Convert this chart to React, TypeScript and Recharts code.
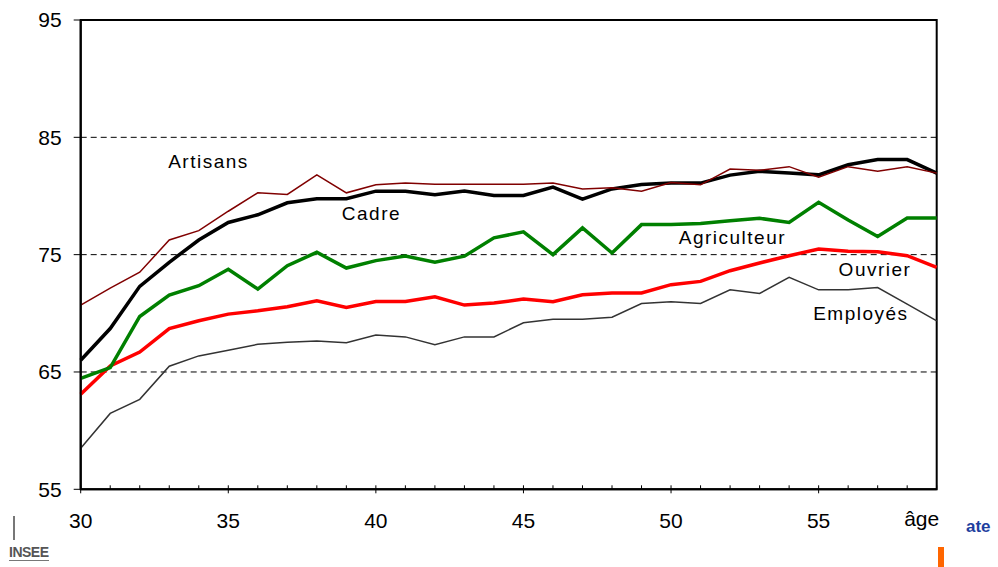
import React from 'react';
import {
  LineChart,
  Line,
  XAxis,
  YAxis,
  ReferenceLine,
  ReferenceArea,
  ReferenceDot,
} from 'recharts';

const ages = [
  30, 31, 32, 33, 34, 35, 36, 37, 38, 39, 40, 41, 42, 43, 44,
  45, 46, 47, 48, 49, 50, 51, 52, 53, 54, 55, 56, 57, 58, 59,
];

const artisans = [
  70.7, 72.15, 73.5, 76.25, 77.05, 78.7, 80.27, 80.13, 81.8, 80.27, 80.95, 81.1, 81.0, 81.0, 81.0,
  81.0, 81.1, 80.6, 80.7, 80.4, 81.15, 80.95, 82.3, 82.2, 82.5, 81.6, 82.5, 82.1, 82.5, 81.95,
];
const cadre = [
  66.0, 68.7, 72.3, 74.35, 76.25, 77.74, 78.4, 79.42, 79.76, 79.76, 80.41, 80.41, 80.1, 80.43, 80.05,
  80.05, 80.76, 79.73, 80.6, 80.98, 81.1, 81.1, 81.78, 82.1, 81.95, 81.8, 82.66, 83.1, 83.1, 81.95,
];
const agriculteur = [
  64.46, 65.37, 69.73, 71.55, 72.35, 73.75, 72.07, 74.06, 75.2, 73.86, 74.49, 74.89, 74.35, 74.87, 76.43,
  76.94, 75.0, 77.28, 75.14, 77.56, 77.56, 77.65, 77.88, 78.1, 77.74, 79.47, 77.96, 76.54, 78.13, 78.13,
];
const ouvrier = [
  63.1, 65.51, 66.7, 68.7, 69.36, 69.93, 70.21, 70.56, 71.07, 70.5, 71.0, 71.0, 71.41, 70.7, 70.87,
  71.21, 70.98, 71.58, 71.73, 71.73, 72.44, 72.72, 73.63, 74.29, 74.91, 75.48, 75.28, 75.25, 74.91, 73.92,
];
const employes = [
  58.5, 61.47, 62.67, 65.49, 66.37, 66.85, 67.36, 67.54, 67.65, 67.5, 68.16, 67.99, 67.33, 67.99, 67.99,
  69.19, 69.5, 69.5, 69.67, 70.84, 70.98, 70.84, 72.0, 71.69, 73.06, 72.0, 72.0, 72.2, 70.79, 69.36,
];

const yTicks = [55, 65, 75, 85, 95];
const gridValues = [65, 75, 85];

// series name labels, placed in data coordinates
const labelNames = ['Artisans', 'Cadre', 'Agriculteur', 'Ouvrier', 'Employés'];
const labelAges = [34.33, 39.85, 52.08, 56.91, 56.43];
const labelValues = [82.98, 78.55, 76.5, 73.77, 70.02];

const data = ages.map((age, i) => ({
  age,
  artisans: artisans[i],
  cadre: cadre[i],
  agriculteur: agriculteur[i],
  ouvrier: ouvrier[i],
  employes: employes[i],
}));

const FONT = '"Liberation Sans", Arial, sans-serif';

const AgeTick = (props: any) => {
  const { x, y, payload } = props;
  const v = payload.value;
  const major = v % 5 === 0;
  return (
    <g>
      <line x1={x} x2={x} y1={y - 4} y2={major ? y + 4 : y} stroke="#000" strokeWidth={1} />
      {major && v < 59 && (
        <text x={x} y={y + 31} dy="0.35em" textAnchor="middle" fontSize={21} fill="#000" fontFamily={FONT}>
          {v}
        </text>
      )}
      {v === 59 && (
        <text x={x - 15} y={y + 29} dy="0.35em" textAnchor="middle" fontSize={21} fill="#000" fontFamily={FONT}>
          âge
        </text>
      )}
    </g>
  );
};

const seriesLabel = (name: string) => (props: any) => {
  const vb = props.viewBox || {};
  const cx = vb.x + (vb.width || 0) / 2;
  const cy = vb.y + (vb.height || 0) / 2;
  return (
    <text x={cx} y={cy} dy="0.35em" textAnchor="middle" fontSize={19} fill="#000" fontFamily={FONT} letterSpacing={1.5}>
      {name}
    </text>
  );
};

export default function App() {
  return (
    <div style={{ position: 'absolute', left: 0, top: 0, width: 998, height: 567, background: '#fff' }}>
      <LineChart
        width={998}
        height={567}
        data={data}
        margin={{ top: 20, right: 61.3, left: 0, bottom: 37.7 }}
      >
        <XAxis
          dataKey="age"
          type="number"
          domain={[30, 59]}
          ticks={ages}
          interval={0}
          height={40}
          tickSize={0}
          tickMargin={0}
          axisLine={{ stroke: '#000', strokeWidth: 2 }}
          tickLine={false}
          tick={<AgeTick />}
        />
        <YAxis
          type="number"
          domain={[55, 95]}
          ticks={yTicks}
          width={80.7}
          tickSize={7}
          tickMargin={12}
          axisLine={{ stroke: '#000', strokeWidth: 2 }}
          tickLine={{ stroke: '#000' }}
          tick={{ fontSize: 21, fill: '#000', fontFamily: FONT }}
        />
        <ReferenceArea x1={30} x2={59} y1={55} y2={95} fill="none" stroke="#000" strokeWidth={2} />
        {gridValues.map((v) => (
          <ReferenceLine key={v} y={v} stroke="#000" strokeWidth={1} strokeDasharray="6 4" />
        ))}
        <Line dataKey="employes" stroke="#333333" strokeWidth={1.5} dot={false} isAnimationActive={false} />
        <Line dataKey="ouvrier" stroke="#ff0000" strokeWidth={3.5} dot={false} isAnimationActive={false} />
        <Line dataKey="agriculteur" stroke="#008000" strokeWidth={3.5} dot={false} isAnimationActive={false} />
        <Line dataKey="cadre" stroke="#000000" strokeWidth={3.5} dot={false} isAnimationActive={false} />
        <Line dataKey="artisans" stroke="#800000" strokeWidth={1.5} dot={false} isAnimationActive={false} />
        {labelNames.map((name, i) => (
          <ReferenceDot
            key={name}
            x={labelAges[i]}
            y={labelValues[i]}
            r={1}
            fill="none"
            stroke="none"
            label={seriesLabel(name)}
          />
        ))}
      </LineChart>
      <div style={{ position: 'absolute', left: 13, top: 516, width: 2, height: 24, background: '#777' }} />
      <div
        style={{
          position: 'absolute',
          left: 9,
          top: 544,
          fontFamily: FONT,
          fontWeight: 'bold',
          fontSize: 14,
          color: '#555',
          letterSpacing: -0.5,
          lineHeight: '16px',
          borderBottom: '1px solid #777',
        }}
      >
        INSEE
      </div>
      <div
        style={{
          position: 'absolute',
          left: 966,
          top: 518,
          fontFamily: FONT,
          fontWeight: 'bold',
          fontSize: 17,
          color: '#1f3f9f',
          lineHeight: '18px',
        }}
      >
        ate
      </div>
      <div style={{ position: 'absolute', left: 938, top: 547, width: 6, height: 20, background: '#ff6600' }} />
    </div>
  );
}
